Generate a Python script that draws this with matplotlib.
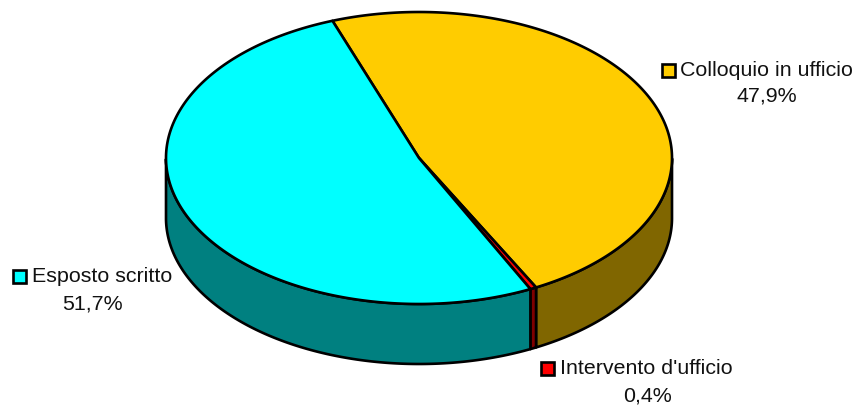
import numpy as np
import matplotlib
matplotlib.use('Agg')
import matplotlib.pyplot as plt
from matplotlib.patches import Polygon, Rectangle

categories = ['Colloquio in ufficio', "Intervento d'ufficio", 'Esposto scritto']
values = [47.9, 0.4, 51.7]
value_labels = ['47,9%', '0,4%', '51,7%']
top_colors = ['#FFCC00', '#FF0000', '#00FFFF']
side_colors = ['#806600', '#800000', '#008080']

cx, cy = 419, 158
rx, ry = 253, 146
depth = 60
start = 110
lw = 1.9

fig = plt.figure(figsize=(8.58, 4.08), dpi=100)
ax = fig.add_axes([0, 0, 1, 1])
ax.set_xlim(0, 858)
ax.set_ylim(408, 0)
ax.axis('off')


def rim(t):
    t = np.radians(t)
    return np.column_stack([cx + rx * np.cos(t), cy - ry * np.sin(t)])


# slices go clockwise from the start angle
ends = start - np.cumsum(values) * 3.6
starts = np.concatenate([[start], ends[:-1]])

# side walls, only the front half of the rim is visible
for a0, a1, side in zip(starts, ends, side_colors):
    t = np.linspace(a0, a1, 400)
    t = t[np.sin(np.radians(t)) <= 0]
    if len(t) == 0:
        continue
    edge = rim(t)
    low = edge + [0, depth]
    ax.add_patch(Polygon(np.vstack([edge, low[::-1]]), closed=True, facecolor=side,
                         edgecolor='black', linewidth=lw, joinstyle='round'))

# top faces
for a0, a1, top in zip(starts, ends, top_colors):
    t = np.linspace(a0, a1, 300)
    pts = np.vstack([[cx, cy], rim(t)])
    ax.add_patch(Polygon(pts, closed=True, facecolor=top, edgecolor='black',
                         linewidth=lw, joinstyle='round'))

font = 'Liberation Sans'
fs = 15.4
text_color = '#111111'
# swatch + name on first line, value centred below
label_pos = [(767, 71, 96), (647, 369, 396), (92, 277, 304)]
swatch_x = [662, 541, 13]
for name, val, col, (x, y1, y2), sx in zip(categories, value_labels, top_colors, label_pos, swatch_x):
    ax.text(sx + 18.5, y1, name, family=font, fontsize=fs, color=text_color, ha='left', va='center')
    ax.text(x, y2, val, family=font, fontsize=fs, color=text_color, ha='center', va='center')
    ax.add_patch(Rectangle((sx, y1 - 7), 13, 13, facecolor=col, edgecolor='black', linewidth=lw))

fig.savefig('out.png', dpi=100)
